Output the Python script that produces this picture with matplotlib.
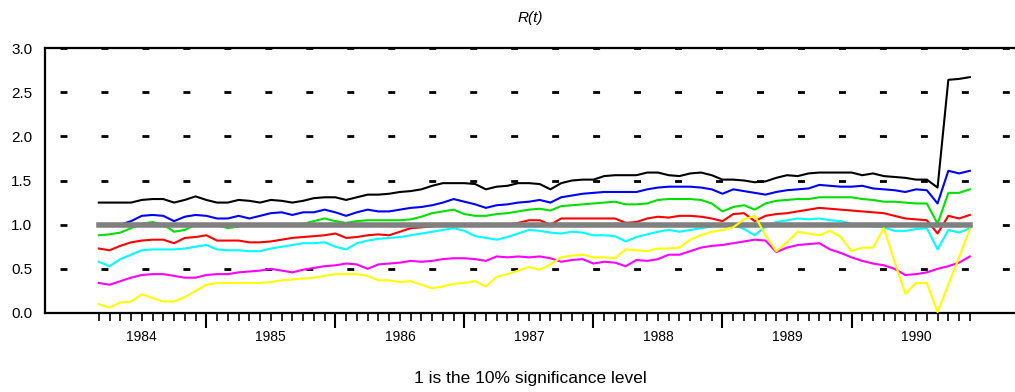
import matplotlib
matplotlib.use("Agg")
import matplotlib.pyplot as plt
import numpy as np

# Monthly observations, March 1984 .. December 1990 (months counted from Jan 1984)
months = np.arange(2, 84)
years = [1984, 1985, 1986, 1987, 1988, 1989, 1990]
significance = 1.0

black = [1.25, 1.25, 1.25, 1.25, 1.28, 1.29, 1.29, 1.25, 1.28, 1.32, 1.28, 1.25, 1.25, 1.28,
         1.27, 1.25, 1.28, 1.27, 1.25, 1.27, 1.30, 1.31, 1.31, 1.28, 1.31, 1.34, 1.34,
         1.35, 1.37, 1.38, 1.40, 1.44, 1.47, 1.47, 1.47, 1.46, 1.40, 1.43, 1.44, 1.47,
         1.47, 1.46, 1.40, 1.47, 1.50, 1.51, 1.51, 1.55, 1.56, 1.56, 1.56, 1.59, 1.59, 1.56,
         1.55, 1.58, 1.59, 1.56, 1.51, 1.51, 1.50, 1.48, 1.49, 1.53, 1.56, 1.55, 1.58,
         1.59, 1.59, 1.59, 1.59, 1.56, 1.58, 1.55, 1.54, 1.53, 1.51, 1.51, 1.42, 2.64, 2.65, 2.67]
blue = [0.99, 0.99, 1.00, 1.04, 1.10, 1.11, 1.10, 1.04, 1.09, 1.11, 1.10, 1.07, 1.07, 1.10,
        1.07, 1.10, 1.13, 1.14, 1.11, 1.14, 1.14, 1.17, 1.14, 1.10, 1.14, 1.17, 1.15,
        1.15, 1.17, 1.19, 1.20, 1.22, 1.25, 1.29, 1.26, 1.23, 1.19, 1.22, 1.23, 1.25,
        1.26, 1.28, 1.25, 1.31, 1.33, 1.35, 1.36, 1.37, 1.37, 1.37, 1.37, 1.40, 1.42, 1.43,
        1.43, 1.43, 1.42, 1.40, 1.35, 1.40, 1.38, 1.36, 1.34, 1.37, 1.39, 1.40, 1.41,
        1.45, 1.44, 1.43, 1.43, 1.44, 1.41, 1.40, 1.39, 1.37, 1.40, 1.39, 1.24, 1.61, 1.58, 1.61]
green = [0.88, 0.89, 0.91, 0.96, 1.01, 1.03, 1.00, 0.92, 0.94, 1.00, 1.00, 1.00, 0.96, 0.98,
         1.00, 1.00, 1.00, 1.00, 1.00, 1.01, 1.04, 1.07, 1.04, 1.02, 1.04, 1.05, 1.05,
         1.05, 1.05, 1.06, 1.09, 1.13, 1.15, 1.17, 1.12, 1.10, 1.10, 1.12, 1.13, 1.15,
         1.17, 1.18, 1.16, 1.21, 1.22, 1.23, 1.24, 1.25, 1.26, 1.23, 1.23, 1.24, 1.28, 1.29,
         1.29, 1.29, 1.28, 1.24, 1.15, 1.20, 1.22, 1.17, 1.24, 1.27, 1.28, 1.29, 1.29,
         1.31, 1.31, 1.31, 1.31, 1.29, 1.28, 1.26, 1.26, 1.25, 1.24, 1.24, 1.01, 1.36, 1.36, 1.40]
red = [0.73, 0.71, 0.76, 0.80, 0.82, 0.83, 0.83, 0.79, 0.85, 0.86, 0.88, 0.82, 0.82, 0.82,
       0.80, 0.80, 0.81, 0.83, 0.85, 0.86, 0.87, 0.88, 0.90, 0.85, 0.86, 0.88, 0.89,
       0.88, 0.92, 0.96, 0.97, 0.98, 0.99, 1.00, 1.00, 1.00, 1.00, 1.00, 1.00, 1.02,
       1.05, 1.05, 1.00, 1.07, 1.07, 1.07, 1.07, 1.07, 1.07, 1.02, 1.03, 1.07, 1.09, 1.08,
       1.10, 1.10, 1.09, 1.07, 1.04, 1.12, 1.13, 1.04, 1.10, 1.12, 1.13, 1.15, 1.17,
       1.19, 1.18, 1.17, 1.16, 1.15, 1.14, 1.13, 1.10, 1.07, 1.06, 1.05, 0.90, 1.10, 1.07, 1.11]
cyan = [0.58, 0.53, 0.61, 0.66, 0.71, 0.72, 0.72, 0.72, 0.73, 0.75, 0.77, 0.72, 0.71, 0.71,
        0.70, 0.70, 0.73, 0.75, 0.77, 0.79, 0.79, 0.80, 0.75, 0.72, 0.79, 0.82, 0.84,
        0.85, 0.86, 0.88, 0.90, 0.92, 0.94, 0.96, 0.93, 0.87, 0.85, 0.83, 0.86, 0.90,
        0.94, 0.93, 0.91, 0.90, 0.92, 0.91, 0.88, 0.88, 0.87, 0.81, 0.86, 0.89, 0.92, 0.94,
        0.92, 0.94, 0.96, 0.98, 0.99, 1.00, 0.95, 0.88, 0.98, 1.03, 1.05, 1.07, 1.06,
        1.07, 1.05, 1.04, 1.01, 0.99, 0.98, 0.97, 0.93, 0.93, 0.95, 0.96, 0.72, 0.94, 0.91, 0.96]
magenta = [0.34, 0.32, 0.36, 0.40, 0.43, 0.44, 0.44, 0.42, 0.40, 0.40, 0.43, 0.44, 0.44, 0.46,
           0.47, 0.48, 0.50, 0.48, 0.46, 0.49, 0.51, 0.53, 0.54, 0.56, 0.55, 0.50, 0.55,
           0.56, 0.57, 0.59, 0.58, 0.59, 0.61, 0.62, 0.62, 0.61, 0.59, 0.64, 0.63, 0.64,
           0.63, 0.64, 0.62, 0.58, 0.60, 0.61, 0.56, 0.58, 0.57, 0.53, 0.60, 0.59, 0.61, 0.66,
           0.66, 0.70, 0.74, 0.76, 0.77, 0.79, 0.81, 0.83, 0.82, 0.69, 0.74, 0.77, 0.78,
           0.79, 0.72, 0.68, 0.63, 0.59, 0.56, 0.54, 0.50, 0.43, 0.44, 0.46, 0.50, 0.53, 0.57, 0.64]
yellow = [0.10, 0.06, 0.12, 0.13, 0.21, 0.17, 0.13, 0.13, 0.18, 0.25, 0.32, 0.34, 0.34, 0.34,
          0.34, 0.34, 0.35, 0.37, 0.38, 0.39, 0.40, 0.42, 0.44, 0.44, 0.44, 0.42, 0.37,
          0.37, 0.35, 0.36, 0.32, 0.28, 0.30, 0.33, 0.34, 0.36, 0.30, 0.41, 0.44, 0.48,
          0.52, 0.49, 0.55, 0.63, 0.65, 0.66, 0.63, 0.63, 0.62, 0.72, 0.71, 0.70, 0.73, 0.73,
          0.74, 0.83, 0.88, 0.92, 0.94, 0.97, 1.06, 1.10, 0.88, 0.70, 0.80, 0.92, 0.90,
          0.88, 0.93, 0.86, 0.70, 0.74, 0.74, 0.96, 0.58, 0.22, 0.34, 0.34, 0.01, 0.32, 0.63, 0.95]

SERIES = [
    (black, "#000000"),
    (blue, "#0000ff"),
    (green, "#00e000"),
    (red, "#ff0000"),
    (cyan, "#00ffff"),
    (magenta, "#ff00ff"),
]

plt.rcParams["font.family"] = ["Liberation Sans Narrow", "Liberation Sans", "DejaVu Sans"]
plt.rcParams["lines.scale_dashes"] = False

fig = plt.figure(figsize=(10.15, 3.92), dpi=100)
ax = fig.add_axes([45 / 1015, 79 / 392, 970 / 1015, 265 / 392])

for vals, col in SERIES:
    ax.plot(months, vals, color=col, linewidth=1.5, zorder=3)
ax.plot(months, np.full(len(months), significance), color="#808080", linewidth=4, zorder=4)
ax.plot(months, yellow, color="#ffff00", linewidth=1.5, zorder=5)

ax.set_xlim(-3.0, 87.2)
ax.set_ylim(0, 3.0)

# y axis
ax.set_yticks(np.arange(0, 3.01, 0.5))
ax.set_yticklabels([f"{v:.1f}" for v in np.arange(0, 3.01, 0.5)], fontsize=11)
ax.tick_params(axis="y", length=0, pad=9)
ax.grid(axis="y", color="black", linewidth=2.0, linestyle=(18.7, (5, 24.5)))

# x axis: year boundaries (long ticks), months (short ticks)
ax.set_xticks(np.arange(12, 84, 12))
ax.set_xticklabels([])
ax.set_xticks(months, minor=True)
ax.tick_params(axis="x", which="major", length=11, width=1.5, direction="out")
ax.tick_params(axis="x", which="minor", length=6, width=1.2, direction="out")

sec = ax.secondary_xaxis("bottom")
sec.set_xticks([12 * k + 6 for k in range(len(years))])
sec.set_xticklabels([str(y) for y in years], fontsize=10)
sec.tick_params(length=0, pad=12)
sec.spines["bottom"].set_visible(False)

ax.spines["right"].set_visible(False)
for s in ("left", "top", "bottom"):
    ax.spines[s].set_linewidth(1.6)

fig.text(530 / 1015, 1 - 18 / 392, "R(t)", ha="center", va="center",
         fontsize=11, style="italic")
fig.text(530 / 1015, 1 - 378 / 392, "1 is the 10% significance level", ha="center",
         va="center", fontsize=12.5)

fig.savefig("out.png", dpi=100)
